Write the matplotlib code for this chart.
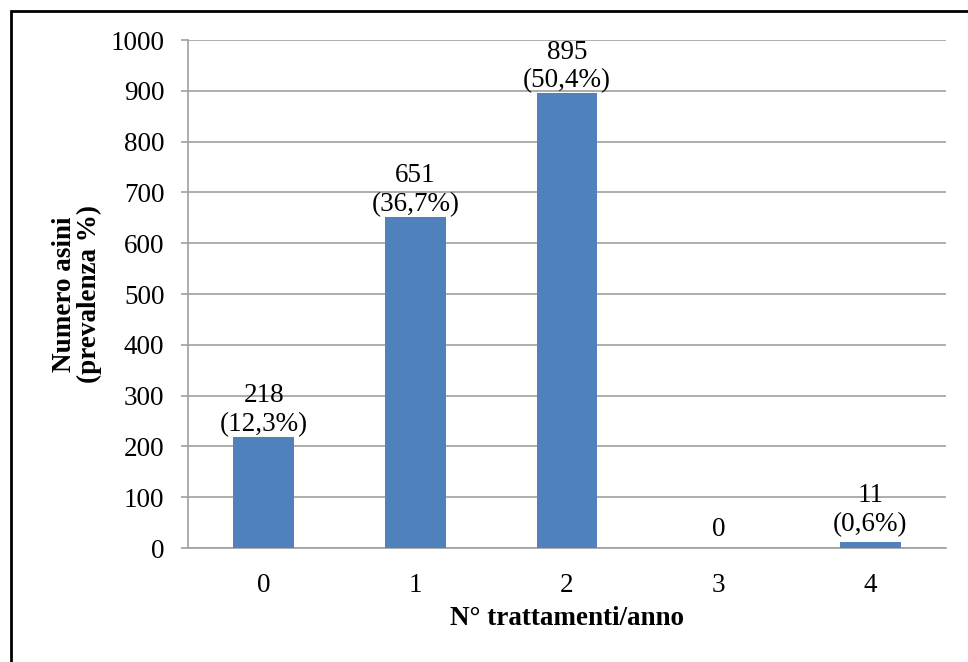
import matplotlib
matplotlib.use("Agg")
import matplotlib.pyplot as plt
from matplotlib.lines import Line2D

# Numero di trattamenti antiparassitari per anno e asini corrispondenti
categories = ["0", "1", "2", "3", "4"]
counts = [218, 651, 895, 0, 11]
percent_labels = ["(12,3%)", "(36,7%)", "(50,4%)", None, "(0,6%)"]
y_ticks = [0, 100, 200, 300, 400, 500, 600, 700, 800, 900, 1000]

W, H = 968, 662
plt.rcParams["font.family"] = ["Liberation Serif", "DejaVu Serif"]
FS = 19.5

fig = plt.figure(figsize=(W / 100, H / 100), dpi=100)
fig.patch.set_facecolor("white")

ax = fig.add_axes([188 / W, 1 - 548 / H, (946 - 188) / W, (548 - 40) / H])

grid_col = "#A0A0A0"
x = list(range(len(categories)))
ax.bar(x, counts, width=0.40, color="#4F81BD", zorder=3)

ax.set_xlim(-0.5, len(categories) - 0.5)
ax.set_ylim(0, 1000)
ax.set_yticks(y_ticks)
ax.set_yticklabels([str(v) for v in y_ticks])
ax.set_xticks(x)
ax.set_xticklabels(categories)

ax.yaxis.grid(True, color=grid_col, linewidth=1.2, zorder=0)
ax.set_axisbelow(True)
for side in ("top", "right"):
    ax.spines[side].set_visible(False)
for side in ("left", "bottom"):
    ax.spines[side].set_color(grid_col)
    ax.spines[side].set_linewidth(1.2)

ax.tick_params(axis="y", length=5, width=1.2, color=grid_col, labelsize=FS, pad=12)
ax.tick_params(axis="x", length=0, labelsize=FS, pad=18)

# Etichette dei valori sopra le barre (più staccate sulle barre basse)
for xi, c, p in zip(x, counts, percent_labels):
    text = f"{c}\n{p}" if p else f"{c}"
    dy = 4 if c < 50 else 0
    ax.annotate(text, (xi, c), xytext=(0, dy), textcoords="offset points",
                ha="center", va="bottom", fontsize=FS, linespacing=1.2,
                zorder=5)

ax.set_xlabel("N° trattamenti/anno", fontsize=FS, fontweight="bold", labelpad=6)
ax.set_ylabel("Numero asini\n(prevalenza %)", fontsize=FS, fontweight="bold",
              labelpad=6, linespacing=1.0)

# Cornice esterna del grafico
bx = 10.5 / W
by = 1 - 10.5 / H
fig.add_artist(Line2D([bx, bx, 1.0], [0.0, by, by], transform=fig.transFigure,
                      color="black", linewidth=2.0, solid_joinstyle="miter"))

fig.savefig("out.png", dpi=100, facecolor="white")
